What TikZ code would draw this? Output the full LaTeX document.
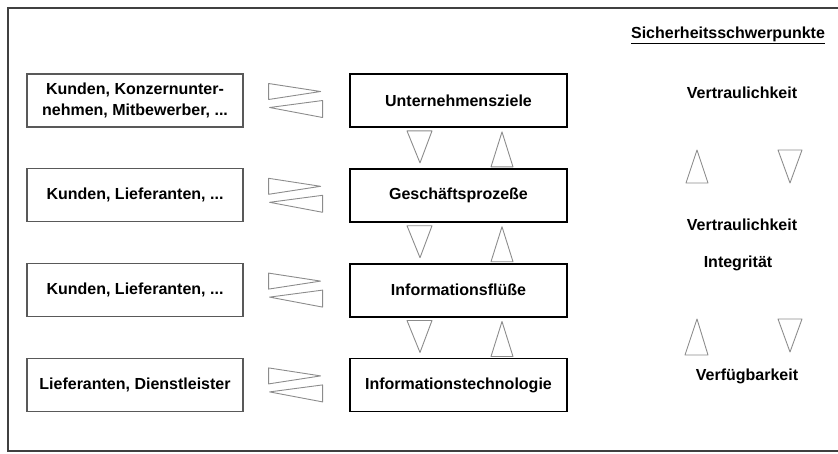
\documentclass[tikz,border=0pt]{standalone}
\usepackage{fontspec}
\setmainfont{Liberation Sans}
\usetikzlibrary{calc,positioning}
\tikzset{%
	umfeld/.style = {draw=black!65, line width=1.2pt, rectangle, minimum width=216pt, minimum height=53pt, text centered, align=center}, % Partner
	ebene/.style  = {draw=black, line width=1.8pt, rectangle, minimum width=217pt, minimum height=53pt, text centered}, % Ebene
	pfeil/.style  = {draw=black!45, line width=0.9pt, line join=round}, % Dreieck
}

\begin{document}
\begin{tikzpicture}[x=1pt,y=-1pt,node distance=40pt,font=\fontsize{16}{21}\selectfont\bfseries]
	\useasboundingbox (0,0) rectangle (838,453);
	\draw[black!75, line width=1.5pt] (8,8) rectangle (850,451);

	\node [ebene] (ziele) at (458.5,100.5) {Unternehmensziele};
	\node [ebene] (prozesse) [below=of ziele] {Geschäftsprozeße};
	\node [ebene] (fluesse) [below=of prozesse] {Informationsflüße};
	\node [ebene] (technik) [below=of fluesse] {Informationstechnologie};

	\node [umfeld] (partner1) [left=105.5pt of ziele] {Kunden, Konzernunter-\\nehmen, Mitbewerber, ...};
	\node [umfeld] (partner2) [left=105.5pt of prozesse] {Kunden, Lieferanten, ...};
	\node [umfeld] (partner3) [left=105.5pt of fluesse] {Kunden, Lieferanten, ...};
	\node [umfeld] (partner4) [left=105.5pt of technik] {Lieferanten, Dienstleister};

	\node (schwerpunkte) at (728,35) {\underline{Sicherheitsschwerpunkte}};
	\node (vertraulich1) at (742,93) {Vertraulichkeit};
	\node (vertraulich2) at (742,225) {Vertraulichkeit};
	\node (integritaet) at (738,263) {Integrität};
	\node (verfuegbar) at (747,376) {Verfügbarkeit};

	% Austausch mit dem Umfeld
	\draw[pfeil] ($(partner1.east)+(25,-17)$) -- ++(0,16) -- ++(52,-8) -- cycle;
	\draw[pfeil] ($(partner1.east)+(26,7)$) -- ++(53,-7) -- ++(0,17) -- cycle;
	\draw[pfeil] ($(partner2.east)+(25,-17)$) -- ++(0,16) -- ++(52,-8) -- cycle;
	\draw[pfeil] ($(partner2.east)+(26,7)$) -- ++(53,-7) -- ++(0,17) -- cycle;
	\draw[pfeil] ($(partner3.east)+(25,-17)$) -- ++(0,16) -- ++(52,-8) -- cycle;
	\draw[pfeil] ($(partner3.east)+(26,7)$) -- ++(53,-7) -- ++(0,17) -- cycle;
	\draw[pfeil] ($(partner4.east)+(25,-17)$) -- ++(0,16) -- ++(52,-8) -- cycle;
	\draw[pfeil] ($(partner4.east)+(26,7)$) -- ++(53,-7) -- ++(0,17) -- cycle;

	% zwischen den Ebenen
	\draw[pfeil] ($(ziele.south)+(-51.5,3)$) -- ++(25,0) -- ++(-12,32) -- cycle;
	\draw[pfeil] ($(prozesse.north)+(32.5,-1)$) -- ++(22,0) -- ++(-11,-35) -- cycle;
	\draw[pfeil] ($(prozesse.south)+(-51.5,3)$) -- ++(25,0) -- ++(-12,32) -- cycle;
	\draw[pfeil] ($(fluesse.north)+(32.5,-1)$) -- ++(22,0) -- ++(-11,-35) -- cycle;
	\draw[pfeil] ($(fluesse.south)+(-51.5,3)$) -- ++(25,0) -- ++(-12,32) -- cycle;
	\draw[pfeil] ($(technik.north)+(32.5,-1)$) -- ++(22,0) -- ++(-11,-35) -- cycle;

	% Sicherheitsschwerpunkte
	\draw[pfeil] (686,183) -- (708,183) -- (697,150) -- cycle;
	\draw[pfeil] (778,150) -- (802,150) -- (790,183) -- cycle;
	\draw[pfeil] (685,355) -- (708,355) -- (697,319) -- cycle;
	\draw[pfeil] (778,319) -- (802,319) -- (790,352) -- cycle;
\end{tikzpicture}
\end{document}
